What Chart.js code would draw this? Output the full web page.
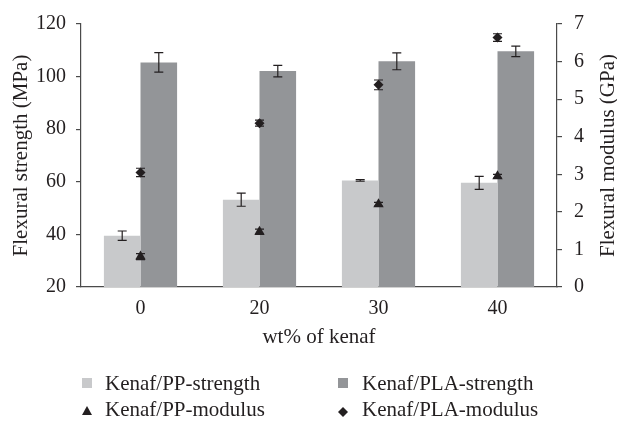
<!DOCTYPE html>
<html><head><meta charset="utf-8">
<script src="https://cdn.jsdelivr.net/npm/chart.js@4"></script>
<style>
html,body{margin:0;padding:0;background:#fff;}
#wrap{position:relative;width:617px;height:425px;overflow:hidden;}
#c{position:absolute;left:0;top:0;}
.lg{position:absolute;font-family:"Liberation Serif",serif;font-size:21px;color:#231f20;line-height:28px;white-space:nowrap;}
.mk{position:absolute;}
</style></head><body>
<div id="wrap">
<canvas id="c" width="617" height="425"></canvas>
<svg class="mk" style="left:82px;top:378px" width="10" height="10"><rect x="0" y="0" width="10" height="10" fill="#c8c9cb"/></svg>
<div class="lg" id="l1" style="left:105px;top:369px"></div>
<svg class="mk" style="left:338px;top:378px" width="10" height="10"><rect x="0" y="0" width="10" height="10" fill="#939598"/></svg>
<div class="lg" id="l2" style="left:362px;top:369px"></div>
<svg class="mk" style="left:82px;top:406px" width="10" height="9"><polygon points="5,0 10,9 0,9" fill="#231f20"/></svg>
<div class="lg" id="l3" style="left:105px;top:395px"></div>
<svg class="mk" style="left:338px;top:407px" width="10" height="10"><polygon points="5,0 10,5 5,10 0,5" fill="#231f20"/></svg>
<div class="lg" id="l4" style="left:362px;top:395px"></div>
</div>
<script>
// ---- data ----
const categories = ['0', '20', '30', '40'];
const ppStrength = [39.5, 53.2, 60.5, 59.6];
const ppStrengthErr = [1.8, 2.5, 0.3, 2.5];
const plaStrength = [105.4, 102.1, 105.8, 109.6];
const plaStrengthErr = [3.7, 2.2, 3.2, 2.0];
const ppModulus = [0.81, 1.47, 2.20, 2.95];
const ppModulusErr = [0.08, 0.07, 0.05, 0.05];
const plaModulus = [3.05, 4.36, 5.38, 6.64];
const plaModulusErr = [0.11, 0.08, 0.13, 0.10];
const strengthTicks = [20, 40, 60, 80, 100, 120];
const modulusTicks = [0, 1, 2, 3, 4, 5, 6, 7];
const seriesNames = ['Kenaf/PP-strength', 'Kenaf/PLA-strength', 'Kenaf/PP-modulus', 'Kenaf/PLA-modulus'];
const xTitle = 'wt% of kenaf';
const leftTitle = 'Flexural strength (MPa)';
const rightTitle = 'Flexural modulus (GPa)';

document.getElementById('l1').textContent = seriesNames[0];
document.getElementById('l2').textContent = seriesNames[1];
document.getElementById('l3').textContent = seriesNames[2];
document.getElementById('l4').textContent = seriesNames[3];

const TEXT = '#231f20';
const AXIS = '#4a4a4a';
const FONT = '"Liberation Serif", serif';

const errorBars = {
  id: 'errorBars',
  afterDatasetDraw(chart, args) {
    const ds = chart.data.datasets[args.index];
    if (!ds.errors) return;
    const scale = chart.scales[ds.yAxisID];
    const ctx = chart.ctx;
    ctx.save();
    ctx.strokeStyle = TEXT;
    ctx.lineWidth = 1.2;
    args.meta.data.forEach((el, i) => {
      const v = ds.data[i], e = ds.errors[i];
      const x = el.x;
      const yt = scale.getPixelForValue(v + e);
      const yb = scale.getPixelForValue(v - e);
      ctx.beginPath();
      ctx.moveTo(x, yt); ctx.lineTo(x, yb);
      ctx.moveTo(x - 4.5, yt); ctx.lineTo(x + 4.5, yt);
      ctx.moveTo(x - 4.5, yb); ctx.lineTo(x + 4.5, yb);
      ctx.stroke();
    });
    ctx.restore();
  }
};

const rightTitlePlugin = {
  id: 'rightTitle',
  afterDraw(chart) {
    const ctx = chart.ctx;
    const a = chart.chartArea;
    const s = chart.scales.y1;
    ctx.save();
    ctx.translate(s.right - 9, (a.top + a.bottom) / 2);
    ctx.rotate(-Math.PI / 2);
    ctx.font = '21px ' + FONT;
    ctx.fillStyle = TEXT;
    ctx.textAlign = 'center';
    ctx.textBaseline = 'middle';
    ctx.fillText(rightTitle, 0, 0);
    ctx.restore();
  }
};

new Chart(document.getElementById('c'), {
  data: {
    labels: categories,
    datasets: [
      { type: 'line', label: seriesNames[2], data: ppModulus, errors: ppModulusErr, yAxisID: 'y1',
        showLine: false, pointStyle: 'triangle', pointRadius: 6, pointBackgroundColor: TEXT, pointBorderWidth: 0, pointBorderColor: TEXT },
      { type: 'line', label: seriesNames[3], data: plaModulus, errors: plaModulusErr, yAxisID: 'y1',
        showLine: false, pointStyle: 'rectRot', pointRadius: 5, pointBackgroundColor: TEXT, pointBorderWidth: 0, pointBorderColor: TEXT },
      { type: 'bar', label: seriesNames[0], data: ppStrength, errors: ppStrengthErr, yAxisID: 'y',
        backgroundColor: '#c8c9cb', barPercentage: 1, categoryPercentage: 0.615 },
      { type: 'bar', label: seriesNames[1], data: plaStrength, errors: plaStrengthErr, yAxisID: 'y',
        backgroundColor: '#939598', barPercentage: 1, categoryPercentage: 0.615 }
    ]
  },
  options: {
    responsive: false,
    animation: false,
    devicePixelRatio: 1,
    layout: { padding: { top: 13, left: 0, right: 0, bottom: 0 } },
    plugins: { legend: { display: false }, tooltip: { enabled: false } },
    scales: {
      x: {
        type: 'category',
        grid: { display: false },
        border: { display: true, color: AXIS, width: 1.2 },
        ticks: { color: TEXT, font: { family: FONT, size: 20 }, padding: 2 },
        title: { display: true, text: xTitle, color: TEXT, font: { family: FONT, size: 21, lineHeight: 1.2 }, padding: { top: 0, bottom: 75 } },
        afterFit(s) { s.height = 138; }
      },
      y: {
        position: 'left', min: 20, max: 120,
        afterBuildTicks(s) { s.ticks = strengthTicks.map(v => ({ value: v })); },
        grid: { drawOnChartArea: false, drawTicks: true, tickLength: 5, color: AXIS, lineWidth: 1.2 },
        border: { display: true, color: AXIS, width: 1.2 },
        ticks: { color: TEXT, font: { family: FONT, size: 20 }, padding: 10 },
        title: { display: true, text: leftTitle, color: TEXT, font: { family: FONT, size: 21, lineHeight: 1.2 }, padding: { top: 9, bottom: 0 } },
        afterFit(s) { s.width = 81; }
      },
      y1: {
        position: 'right', min: 0, max: 7,
        afterBuildTicks(s) { s.ticks = modulusTicks.map(v => ({ value: v })); },
        grid: { drawOnChartArea: false, drawTicks: true, tickLength: 5, color: AXIS, lineWidth: 1.2 },
        border: { display: true, color: AXIS, width: 1.2 },
        ticks: { color: TEXT, font: { family: FONT, size: 20 }, padding: 12 },
        afterFit(s) { s.width = 60; }
      }
    }
  },
  plugins: [errorBars, rightTitlePlugin]
});
</script>
</body></html>
